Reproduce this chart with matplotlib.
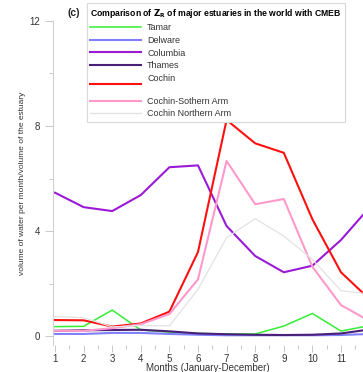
import numpy as np
import matplotlib
matplotlib.use("Agg")
import matplotlib.pyplot as plt
from matplotlib.ticker import MultipleLocator

plt.rcParams['font.family'] = ['Liberation Sans', 'DejaVu Sans']

#----------- monthly flushing volume ratios (Z_R) -----------#
months = np.arange(1, 13)

tamar = [0.36, 0.37, 0.99, 0.23, 0.15, 0.10, 0.08, 0.08, 0.38, 0.86, 0.19, 0.40]
delware = [0.08, 0.08, 0.12, 0.12, 0.08, 0.05, 0.03, 0.03, 0.03, 0.03, 0.04, 0.08]
columbia = [5.46, 4.91, 4.76, 5.37, 6.43, 6.50, 4.19, 3.05, 2.43, 2.68, 3.66, 4.90]
thames = [0.20, 0.22, 0.23, 0.24, 0.18, 0.10, 0.07, 0.05, 0.04, 0.05, 0.10, 0.25]
cochin = [0.61, 0.60, 0.36, 0.48, 0.93, 3.20, 8.23, 7.34, 6.98, 4.45, 2.43, 1.40]
cochin_south = [0.20, 0.20, 0.30, 0.45, 0.84, 2.16, 6.67, 5.02, 5.22, 2.64, 1.18, 0.57]
cochin_north = [0.74, 0.70, 0.35, 0.40, 0.39, 1.78, 3.75, 4.47, 3.81, 2.92, 1.73, 1.60]

series = [
    ("Tamar", tamar, "#33ee33", 1.1),
    ("Delware", delware, "#8080ff", 1.5),
    ("Columbia", columbia, "#9a1ad6", 1.5),
    ("Thames", thames, "#4a1f78", 1.5),
    ("Cochin\n", cochin, "#ff1010", 1.5),
    ("Cochin-Sothern Arm", cochin_south, "#ff99cc", 1.5),
    ("Cochin Northern Arm", cochin_north, "#e2e2e2", 0.9),
]

fig = plt.figure(figsize=(3.63, 3.72), dpi=100)
ax = fig.add_axes([0.146, 0.0726, 0.854, 0.871])

for name, vals, col, lw in series:
    ax.plot(months, vals, color=col, lw=lw, label=name)

ax.set_xlim(0.93, 11.77)
ax.set_ylim(-0.34, 12)

ax.yaxis.set_major_locator(MultipleLocator(4))
ax.yaxis.set_minor_locator(MultipleLocator(2))
ax.xaxis.set_major_locator(MultipleLocator(1))
ax.xaxis.set_minor_locator(MultipleLocator(0.5))

for s in ['top', 'right', 'bottom']:
    ax.spines[s].set_visible(False)
ax.spines['left'].set_color('#d0d0d0')
ax.spines['left'].set_linewidth(0.8)

ax.tick_params(axis='y', which='major', length=6, width=0.7, color='#c8c8c8',
               labelsize=7, labelcolor='#333333', pad=3)
ax.tick_params(axis='y', which='minor', length=3, width=0.7, color='#c8c8c8')
ax.tick_params(axis='x', which='major', length=5, width=0.7, color='#c8c8c8',
               labelsize=7, labelcolor='#333333', pad=1.5)
ax.tick_params(axis='x', which='minor', length=3, width=0.7, color='#c8c8c8')

ax.set_xlabel("Months (January-December)", fontsize=7, color='#333333', labelpad=-1)
ax.set_ylabel("volume of water per month/volume of the estuary", fontsize=6,
              color='#333333', labelpad=3)

leg = ax.legend(loc='upper left', bbox_to_anchor=(0.094, 1.069),
                title=r"Comparison of $\mathbf{Z_R}$ of major estuaries in the world with CMEB",
                title_fontproperties={'weight': 'bold', 'size': 6.2},
                fontsize=6.5, frameon=True, fancybox=False, framealpha=1,
                edgecolor='#d8d8d8', handlelength=5.6, handletextpad=0.7,
                labelspacing=0.4, borderpad=0.4, alignment='left')
leg.get_frame().set_linewidth(0.8)
for t in leg.get_texts():
    t.set_color('#333333')

fig.text(0.185, 0.965, "(c)", fontsize=7.5, fontweight='bold', ha='left', va='center',
         color='#222222')

fig.savefig("out.png", dpi=100)
